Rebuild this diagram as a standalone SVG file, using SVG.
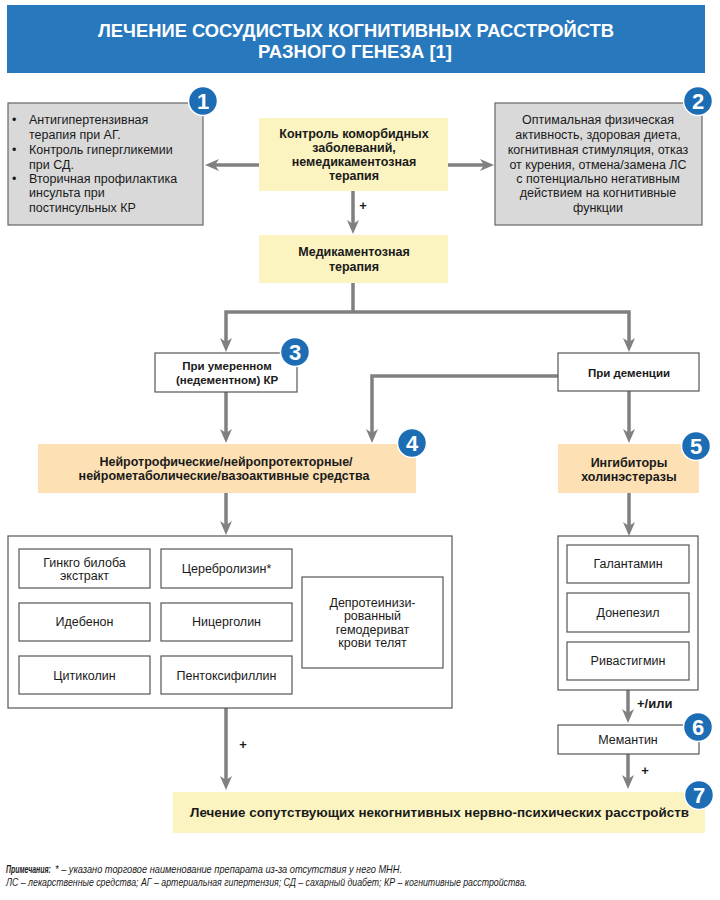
<svg xmlns="http://www.w3.org/2000/svg" width="720" height="900" viewBox="0 0 720 900">
<style>
text{font-family:"Liberation Sans",Arial,sans-serif;fill:#1a1a1a}
.t{font-size:12.5px}
.b{font-size:12.5px;font-weight:bold}
.bs{font-size:11.5px;font-weight:bold}
.c{text-anchor:middle}
.gray{fill:#d9d9d9;stroke:#666;stroke-width:1.2}
.yel{fill:#fbf4c1}
.peach{fill:#fde1b4}
.wb{fill:#fff;stroke:#555;stroke-width:1.2}
.conn{fill:none;stroke:#808080;stroke-width:3.5;marker-end:url(#ah)}
.line{fill:none;stroke:#808080;stroke-width:3.5}
.bc{fill:#1d6db5;stroke:#fff;stroke-width:1.5}
.bn{font-size:22px;font-weight:bold;fill:#fff;text-anchor:middle}
.lbl{font-size:13px;font-weight:bold}
.fn{font-size:10.5px;font-style:italic}
</style>
<defs>
<marker id="ah" viewBox="0 0 14 14" refX="8" refY="7" markerWidth="14" markerHeight="14" markerUnits="userSpaceOnUse" orient="auto">
<path d="M0,1 L14,7 L0,13 L4,7 Z" fill="#808080"/>
</marker>
</defs>

<g id="title">
<rect x="7" y="5" width="698" height="68" fill="#2878be"/>
<text x="356" y="37" class="c" style="font-size:19px;font-weight:bold;fill:#fff" textLength="516" lengthAdjust="spacingAndGlyphs">ЛЕЧЕНИЕ СОСУДИСТЫХ КОГНИТИВНЫХ РАССТРОЙСТВ</text>
<text x="355" y="58" class="c" style="font-size:19px;font-weight:bold;fill:#fff" textLength="194" lengthAdjust="spacingAndGlyphs">РАЗНОГО ГЕНЕЗА [1]</text>
</g>

<g id="connectors">
<path class="conn" d="M259,165 H211"/>
<path class="conn" d="M448,165 H488"/>
<path class="conn" d="M353,191 V228"/>
<path class="line" d="M353,283 V312"/>
<path class="conn" d="M353,312 H226 V346"/>
<path class="conn" d="M353,312 H629 V346"/>
<path class="conn" d="M226,392 V437"/>
<path class="conn" d="M558,376 H372 V437"/>
<path class="conn" d="M629,391 V437"/>
<path class="conn" d="M226,493 V529"/>
<path class="conn" d="M629,493 V530"/>
<path class="conn" d="M226,708 V784"/>
<path class="conn" d="M628,690 V717"/>
<path class="conn" d="M628,754 V783"/>
<text x="363" y="210" class="lbl c">+</text>
<text x="243" y="749" class="lbl c">+</text>
<text x="637" y="708" class="lbl">+/или</text>
<text x="645" y="775" class="lbl c">+</text>
</g>

<g id="n1">
<rect class="gray" x="8" y="103" width="195" height="122"/>
<g class="t">
<text x="12" y="124">•</text><text x="29" y="124">Антигипертензивная</text>
<text x="29" y="139">терапия при АГ.</text>
<text x="12" y="154">•</text><text x="29" y="154">Контроль гипергликемии</text>
<text x="29" y="169">при СД.</text>
<text x="12" y="183">•</text><text x="29" y="183">Вторичная профилактика</text>
<text x="29" y="197">инсульта при</text>
<text x="29" y="212">постинсульных КР</text>
</g>
<circle class="bc" cx="203" cy="101" r="14.5"/><text x="203" y="109" class="bn">1</text>
</g>

<g id="n-control">
<rect class="yel" x="259" y="118" width="189" height="73"/>
<text x="354" y="138" class="b c">Контроль коморбидных</text>
<text x="354" y="152" class="b c">заболеваний,</text>
<text x="354" y="166" class="b c">немедикаментозная</text>
<text x="354" y="180" class="b c">терапия</text>
</g>

<g id="n2">
<rect class="gray" x="495" y="103" width="207" height="122"/>
<g class="t c">
<text x="598" y="124">Оптимальная физическая</text>
<text x="598" y="139">активность, здоровая диета,</text>
<text x="598" y="154">когнитивная стимуляция, отказ</text>
<text x="598" y="169">от курения, отмена/замена ЛС</text>
<text x="598" y="183">с потенциально негативным</text>
<text x="598" y="197">действием на когнитивные</text>
<text x="598" y="212">функции</text>
</g>
<circle class="bc" cx="698" cy="101" r="14.5"/><text x="698" y="109" class="bn">2</text>
</g>

<g id="n-med">
<rect class="yel" x="259" y="235" width="189" height="48"/>
<text x="354" y="256" class="b c">Медикаментозная</text>
<text x="354" y="271" class="b c">терапия</text>
</g>

<g id="n3">
<rect class="wb" x="155" y="353" width="142" height="39"/>
<text x="227" y="370" class="bs c">При умеренном</text>
<text x="227" y="384" class="bs c">(недементном) КР</text>
<circle class="bc" cx="295" cy="352" r="14.5"/><text x="295" y="360" class="bn">3</text>
</g>

<g id="n-dem">
<rect class="wb" x="558" y="353" width="141" height="38"/>
<text x="629" y="377" class="bs c">При деменции</text>
</g>

<g id="n4">
<rect class="peach" x="38" y="444" width="378" height="49"/>
<text x="226" y="466" class="b c">Нейротрофические/нейропротекторные/</text>
<text x="224" y="480" class="b c">нейрометаболические/вазоактивные средства</text>
<circle class="bc" cx="412" cy="443" r="14.5"/><text x="412" y="451" class="bn">4</text>
</g>

<g id="n5">
<rect class="peach" x="558" y="444" width="141" height="49"/>
<text x="629" y="467" class="b c">Ингибиторы</text>
<text x="629" y="481" class="b c">холинэстеразы</text>
<circle class="bc" cx="696" cy="446" r="14.5"/><text x="696" y="454" class="bn">5</text>
</g>

<g id="n-drugs4">
<rect class="wb" x="8" y="536" width="444" height="172"/>
<rect class="wb" x="19" y="549" width="131" height="39"/>
<text x="84.5" y="567" class="t c">Гинкго билоба</text>
<text x="84.5" y="580" class="t c">экстракт</text>
<rect class="wb" x="161" y="549" width="131" height="39"/>
<text x="226.5" y="573" class="t c">Церебролизин*</text>
<rect class="wb" x="19" y="603" width="131" height="38"/>
<text x="84.5" y="626" class="t c">Идебенон</text>
<rect class="wb" x="161" y="603" width="131" height="38"/>
<text x="226.5" y="626" class="t c">Ницерголин</text>
<rect class="wb" x="19" y="656" width="131" height="38"/>
<text x="84.5" y="680" class="t c">Цитиколин</text>
<rect class="wb" x="161" y="656" width="131" height="38"/>
<text x="226.5" y="680" class="t c">Пентоксифиллин</text>
<rect class="wb" x="302" y="577" width="141" height="91"/>
<text x="372.5" y="607" class="t c">Депротеинизи-</text>
<text x="372.5" y="620" class="t c">рованный</text>
<text x="372.5" y="634" class="t c">гемодериват</text>
<text x="372.5" y="647" class="t c">крови телят</text>
</g>

<g id="n-drugs5">
<rect class="wb" x="558" y="536" width="140" height="154"/>
<rect class="wb" x="567" y="545" width="122" height="38"/>
<text x="628" y="568" class="t c">Галантамин</text>
<rect class="wb" x="567" y="593" width="122" height="39"/>
<text x="628" y="617" class="t c">Донепезил</text>
<rect class="wb" x="567" y="642" width="122" height="38"/>
<text x="628" y="665" class="t c">Ривастигмин</text>
</g>

<g id="n6">
<rect class="wb" x="558" y="725" width="141" height="29"/>
<text x="628" y="744" class="t c">Мемантин</text>
<circle class="bc" cx="698" cy="727" r="14.5"/><text x="698" y="735" class="bn">6</text>
</g>

<g id="n7">
<rect class="yel" x="173" y="792" width="532" height="41"/>
<text x="439.5" y="817" class="c" style="font-size:13px;font-weight:bold" textLength="499" lengthAdjust="spacingAndGlyphs">Лечение сопутствующих некогнитивных нервно-психических расстройств</text>
<circle class="bc" cx="699" cy="795" r="14.5"/><text x="699" y="803" class="bn">7</text>
</g>

<g id="notes">
<text transform="translate(6,873) scale(0.66,1)" class="fn" font-weight="bold">Примечания:</text>
<text x="55" y="873" class="fn" textLength="347" lengthAdjust="spacingAndGlyphs">* – указано торговое наименование препарата из-за отсутствия у него МНН.</text>
<text x="6" y="886" class="fn" textLength="521" lengthAdjust="spacingAndGlyphs">ЛС – лекарственные средства; АГ – артериальная гипертензия; СД – сахарный диабет; КР – когнитивные расстройства.</text>
</g>
</svg>
